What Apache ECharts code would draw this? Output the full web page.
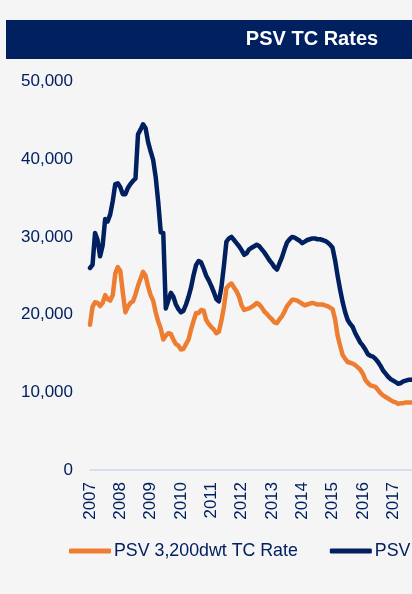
<!DOCTYPE html>
<html>
<head>
<meta charset="utf-8">
<script src="https://cdn.jsdelivr.net/npm/echarts@6/dist/echarts.min.js"></script>
<style>
html,body{margin:0;padding:0;background:#F5F5F5;overflow:hidden;}
#chart{width:640px;height:594px;}
</style>
</head>
<body>
<div id="chart"></div>
<script>
const years = ['2007','2008','2009','2010','2011','2012','2013','2014','2015','2016','2017'];
const yTicks = [0, 10000, 20000, 30000, 40000, 50000];
const seriesNames = ['PSV 3,200dwt TC Rate', 'PSV 4,000dwt TC Rate'];

const psv3200 = [
18700,21000,21600,21500,21100,21500,22500,22000,21800,22500,25300,26100,
25600,22800,20300,21000,21500,21700,22600,23700,24600,25500,25000,23600,
22500,21800,20300,19100,18200,16800,17300,17600,17500,16800,16200,16000,
15500,15600,16200,16800,18100,19200,20200,20200,20600,20500,19300,18800,
18400,18100,17600,17800,19200,21000,23400,23800,24000,23500,23000,22300,
21200,20600,20700,20800,21000,21200,21500,21300,20900,20400,20100,19700,
19400,19000,18900,19400,19800,20400,21100,21500,21900,21900,21800,21600,
21400,21200,21300,21400,21500,21400,21300,21300,21300,21200,21100,20900,
20700,19400,17300,16000,14800,14300,13900,13800,13700,13500,13200,12900,
12400,11600,11200,10900,10800,10700,10300,9900,9600,9400,9200,9000,
8800,8700,8500,8600,8600,8700,8700,8700,8700
];
const psv4000 = [
26000,26400,30500,29600,27500,28900,32300,32000,32900,34600,36800,36900,
36400,35500,35500,36300,36800,37200,37500,43200,43800,44500,44000,42200,
41000,39900,37700,34500,30600,30500,20800,21800,22800,22300,21300,20700,
20300,20500,21300,22300,23500,25100,26400,26900,26700,25900,25000,24400,
23700,22900,22000,21700,23500,26300,29400,29800,30000,29600,29200,28800,
28300,27700,27900,28400,28600,28800,29000,28800,28400,28000,27500,27000,
26600,26100,25800,26600,27400,28400,29300,29700,30000,29900,29700,29500,
29200,29400,29600,29700,29800,29800,29700,29700,29600,29500,29300,29000,
28600,27000,25000,23200,21600,20300,19300,18800,18400,17600,17000,16400,
16000,15500,14900,14700,14600,14300,13900,13400,12800,12400,12000,11700,
11500,11300,11100,11200,11400,11500,11600,11600,11700
];

const months = ['01','02','03','04','05','06','07','08','09','10','11','12'];
const categories = [];
years.forEach(y => months.forEach(m => categories.push(y + '-' + m)));
const cats = categories.slice(0, psv3200.length);

const NAVY = '#002060';
const ORANGE = '#ED7D31';
const FONT = 'Liberation Sans, Arial, sans-serif';

const chart = echarts.init(document.getElementById('chart'), null, {renderer: 'canvas'});
chart.setOption({
  animation: false,
  backgroundColor: '#F5F5F5',
  textStyle: {fontFamily: FONT},
  graphic: [
    {type: 'rect', shape: {x: 6, y: 20, width: 640, height: 39}, style: {fill: NAVY}, z: 0},
    {type: 'text', x: 312, y: 39.5, style: {text: 'PSV TC Rates', fill: '#FFFFFF', fontSize: 20, fontWeight: 'bold', fontFamily: FONT, textAlign: 'center', textVerticalAlign: 'middle'}, z: 1}
  ],
  legend: {
    left: 64, top: 537,
    itemWidth: 42, itemHeight: 5, itemGap: 32,
    icon: 'roundRect',
    textStyle: {color: NAVY, fontSize: 17.8, fontFamily: FONT, padding: [0,0,0,-2]},
    data: seriesNames
  },
  grid: {left: 90, top: 81.5, bottom: 124, right: 640 - 413.4, containLabel: false},
  xAxis: {
    type: 'category',
    data: cats,
    boundaryGap: false,
    axisLine: {show: true, lineStyle: {color: '#C9D8EE', width: 1.5}},
    axisTick: {show: false},
    splitLine: {show: false},
    axisLabel: {
      rotate: 90, margin: 12, color: NAVY, fontSize: 17,
      fontFamily: FONT,
      interval: function (i) { return i % 12 === 0; },
      formatter: function (v) { return v.slice(0, 4); }
    }
  },
  yAxis: {
    type: 'value', min: yTicks[0], max: yTicks[yTicks.length - 1], interval: 10000,
    axisLine: {show: false}, axisTick: {show: false}, splitLine: {show: false},
    axisLabel: {
      margin: 17, color: NAVY, fontSize: 17,
      fontFamily: FONT,
      formatter: function (v) { return v.toLocaleString('en-US'); }
    }
  },
  series: [
    {name: seriesNames[0], type: 'line', data: psv3200, showSymbol: false, symbol: 'none',
     itemStyle: {color: ORANGE}, lineStyle: {color: ORANGE, width: 4.5, join: 'round', cap: 'round'}},
    {name: seriesNames[1], type: 'line', data: psv4000, showSymbol: false, symbol: 'none',
     itemStyle: {color: NAVY}, lineStyle: {color: NAVY, width: 4.5, join: 'round', cap: 'round'}}
  ]
});
</script>
</body>
</html>
